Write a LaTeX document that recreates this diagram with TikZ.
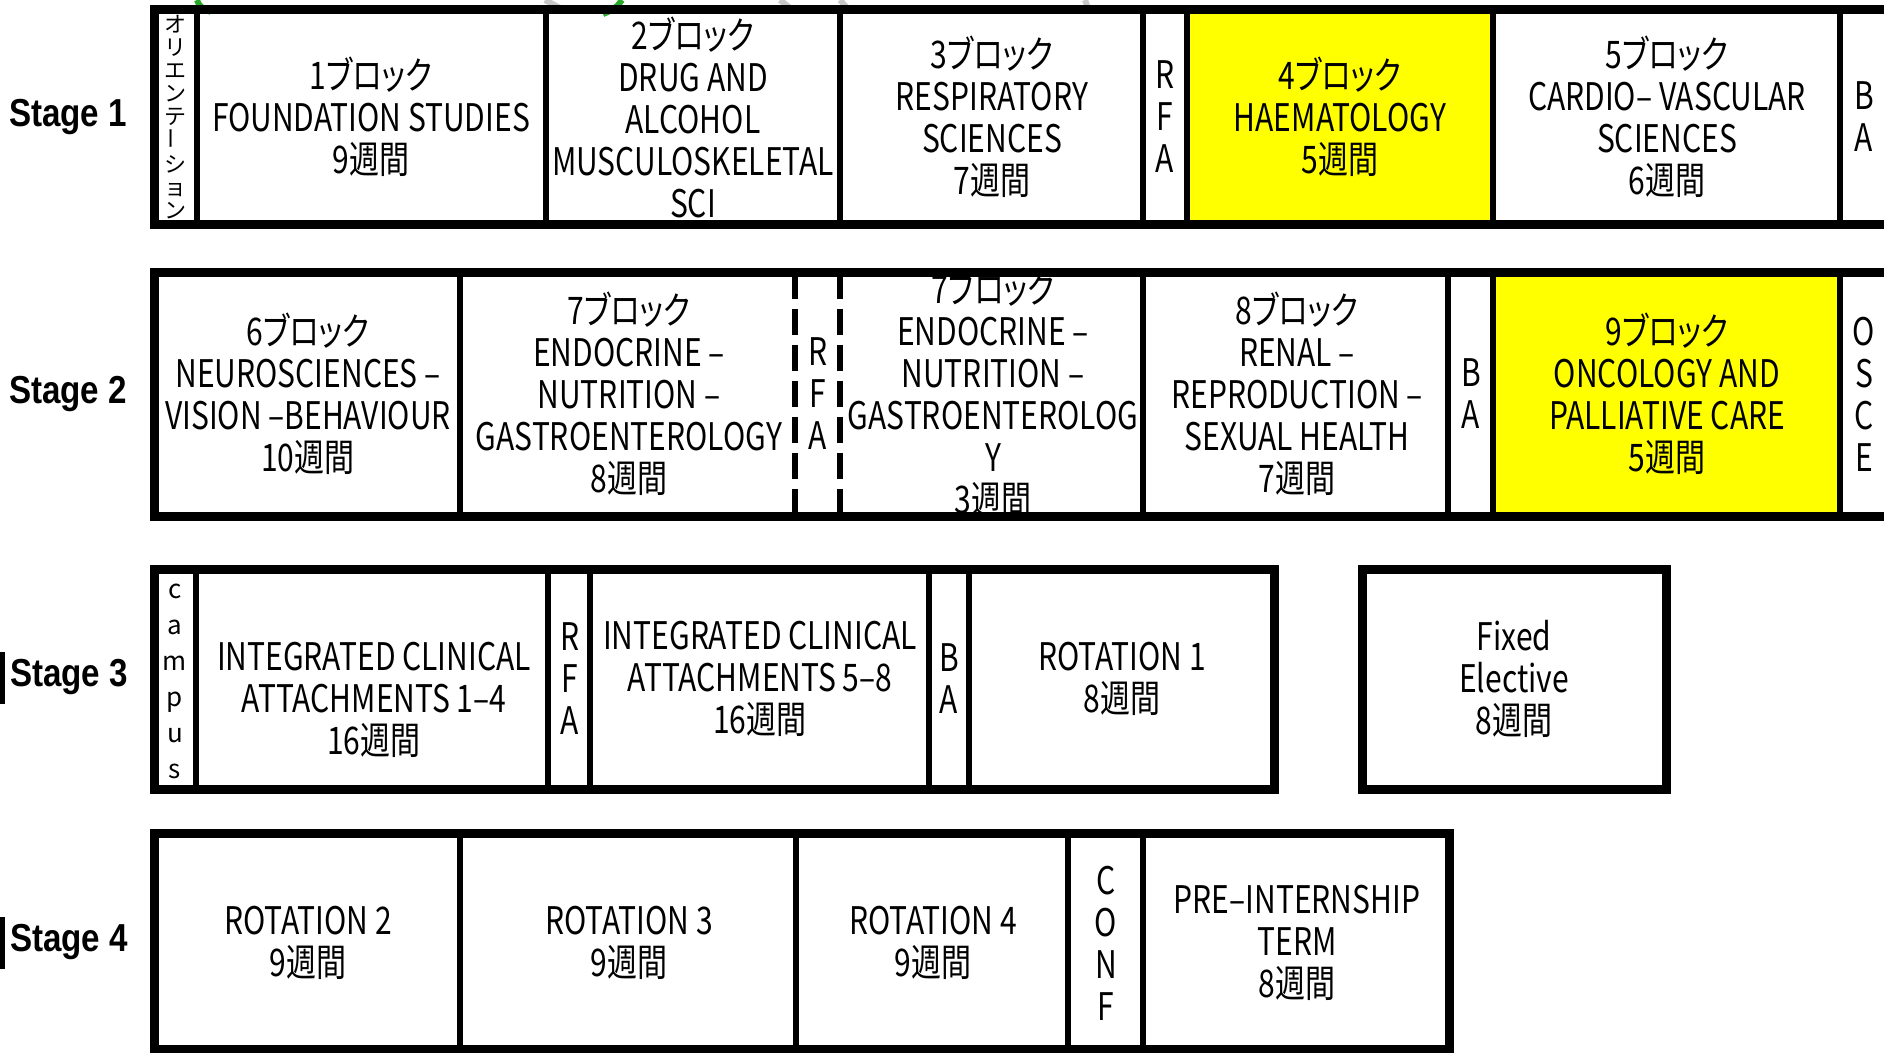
\documentclass[tikz,border=0pt]{standalone}
\usepackage{fontspec}
\usepackage{graphicx}
\setmainfont{Noto Sans CJK JP}
\newfontfamily\cellfont[FakeStretch=0.79,RawFeature=+palt]{Noto Sans CJK JP}
\newfontfamily\stagefont[FakeStretch=0.85]{Liberation Sans}
\definecolor{hiyellow}{RGB}{255,255,0}
\definecolor{titlegreen}{RGB}{40,170,40}
\definecolor{titlegray}{RGB}{200,200,200}

\begin{document}
\begin{tikzpicture}[x=0.5pt,y=-0.5pt,
  txt/.style={font=\cellfont\fontsize{19}{21}\selectfont,align=center,inner sep=0pt},
  vjp/.style={font=\fontsize{11}{11.5}\selectfont,align=center,inner sep=0pt},
  vlat/.style={font=\fontsize{13}{18}\selectfont,align=center,inner sep=0pt},
  stagelbl/.style={font=\stagefont\bfseries\fontsize{19.5}{21}\selectfont,inner sep=0pt},
  rowframe/.style={line width=4.5pt},
  divider/.style={line width=3.2pt},
  dashdiv/.style={line width=2.6pt,dash pattern=on 13pt off 5pt}]
\useasboundingbox (0,0) rectangle (1884,1053);
\clip (0,0) rectangle (1884,1053);

% cut-off title above
\draw[titlegreen,line width=3pt] (197,0) .. controls (200,7) .. (211,12);
\draw[titlegreen,line width=3pt] (622,0) .. controls (615,9) .. (603,14);
\draw[titlegray,line width=3pt] (545,0) -- (560,8);
\draw[titlegray,line width=3pt] (780,0) -- (790,8); \draw[titlegray,line width=3pt] (840,0) -- (848,9);
\draw[titlegray,line width=3pt] (875,9) -- (940,9); \draw[titlegray,line width=3pt] (1085,0) -- (1088,8);

% highlighted blocks
\fill[hiyellow] (1187,10) rectangle (1493,225);
\fill[hiyellow] (1493,273) rectangle (1840,516);

% stage labels
\node[stagelbl] (st1) at (68,117) {Stage 1};
\node[stagelbl] (st2) at (68,394) {Stage 2};
\node[stagelbl] (st3) at (69,677) {Stage 3};
\node[stagelbl] (st4) at (69,942) {Stage 4};
\draw[line width=2.5pt] (2,652) -- (2,704);
\draw[line width=2.5pt] (2,917) -- (2,969);

% Stage 1
\node[vjp] (orient) at (175,117) {オ\\リ\\エ\\ン\\テ\\\rotatebox{90}{ー}\\シ\\ョ\\ン};
\node[txt] (blk1) at (371,117) {1ブロック\\FOUNDATION STUDIES\\9週間};
\node[txt] (blk2) at (693,117) {2ブロック\\DRUG AND\\ALCOHOL\\MUSCULOSKELETAL\\SCI};
\node[txt] (blk3) at (992,117) {3ブロック\\RESPIRATORY\\SCIENCES\\7週間};
\node[txt] (rfa1) at (1165,117) {R\\F\\A};
\node[txt] (blk4) at (1340,117) {4ブロック\\HAEMATOLOGY\\5週間};
\node[txt] (blk5) at (1667,117) {5ブロック\\CARDIO– VASCULAR\\SCIENCES\\6週間};
\node[txt] (ba1) at (1864,117) {B\\A};

% Stage 2
\node[txt] (blk6) at (308,394) {6ブロック\\NEUROSCIENCES –\\VISION –BEHAVIOUR\\10週間};
\node[txt] (blk7a) at (629,394) {7ブロック\\ENDOCRINE –\\NUTRITION –\\GASTROENTEROLOGY\\8週間};
\node[txt] (rfa2) at (818,394) {R\\F\\A};
\node[txt] (blk7b) at (993,394) {7ブロック\\ENDOCRINE –\\NUTRITION –\\GASTROENTEROLOG\\Y\\3週間};
\node[txt] (blk8) at (1297,394) {8ブロック\\RENAL –\\REPRODUCTION –\\SEXUAL HEALTH\\7週間};
\node[txt] (ba2) at (1471,394) {B\\A};
\node[txt] (blk9) at (1667,394) {9ブロック\\ONCOLOGY AND\\PALLIATIVE CARE\\5週間};
\node[txt] (osce) at (1864,394) {O\\S\\C\\E};

% Stage 3
\node[vlat] (campus) at (175,681) {c\\a\\m\\p\\u\\s};
\node[txt] (ica1) at (374,700) {INTEGRATED CLINICAL\\ATTACHMENTS 1–4\\16週間};
\node[txt] (rfa3) at (570,679) {R\\F\\A};
\node[txt] (ica2) at (760,679) {INTEGRATED CLINICAL\\ATTACHMENTS 5–8\\16週間};
\node[txt] (ba3) at (949,679) {B\\A};
\node[txt] (rot1) at (1122,679) {ROTATION 1\\8週間};
\node[txt] (elective) at (1514,679) {Fixed\\Elective\\8週間};

% Stage 4
\node[txt] (rot2) at (308,943) {ROTATION 2\\9週間};
\node[txt] (rot3) at (629,943) {ROTATION 3\\9週間};
\node[txt] (rot4) at (933,943) {ROTATION 4\\9週間};
\node[txt] (conf) at (1106,943) {C\\O\\N\\F};
\node[txt] (pre) at (1297,943) {PRE–INTERNSHIP\\TERM\\8週間};

% frames and dividers (over the text)
\draw[rowframe] (154,10) rectangle (1900,225);
\foreach \x in {197,546,840,1143,1187,1493,1840} \draw[divider] (\x,10) -- (\x,225);
\draw[rowframe] (154,273) rectangle (1900,516);
\foreach \x in {460,1143,1448,1493,1840} \draw[divider] (\x,273) -- (\x,516);
\draw[dashdiv] (795,273) -- (795,516); \draw[dashdiv] (840,273) -- (840,516);
\draw[rowframe] (154,569) rectangle (1274,789);
\foreach \x in {196,548,590,929,969} \draw[divider] (\x,569) -- (\x,789);
\draw[rowframe] (1362,569) rectangle (1666,789);
\draw[rowframe] (154,833) rectangle (1449,1049);
\foreach \x in {460,796,1068,1143} \draw[divider] (\x,833) -- (\x,1049);
\end{tikzpicture}
\end{document}
